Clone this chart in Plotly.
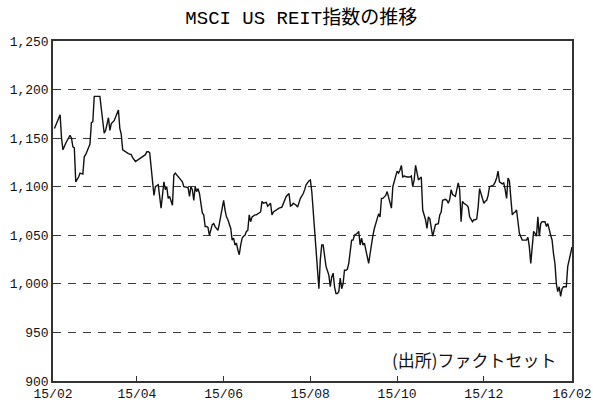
import plotly.graph_objects as go

title_text = "MSCI US REIT指数の推移"
source_text = "(出所)ファクトセット"

dates = [
"2015-02-02","2015-02-04","2015-02-06","2015-02-07","2015-02-08","2015-02-10","2015-02-13","2015-02-14","2015-02-15","2015-02-16",
"2015-02-17","2015-02-19","2015-02-20","2015-02-22","2015-02-23","2015-02-24","2015-02-26","2015-02-27","2015-02-28","2015-03-01",
"2015-03-02","2015-03-05","2015-03-06","2015-03-07","2015-03-09","2015-03-10","2015-03-11","2015-03-12","2015-03-13","2015-03-14",
"2015-03-16","2015-03-17","2015-03-19","2015-03-20","2015-03-21","2015-03-22","2015-03-24","2015-03-26","2015-03-28","2015-03-29",
"2015-03-31","2015-04-02","2015-04-04","2015-04-07","2015-04-08","2015-04-09","2015-04-10","2015-04-12","2015-04-13","2015-04-14",
"2015-04-16","2015-04-18","2015-04-20","2015-04-21","2015-04-22","2015-04-23","2015-04-24","2015-04-26","2015-04-27","2015-04-28",
"2015-04-30","2015-05-03","2015-05-04","2015-05-07","2015-05-08","2015-05-09","2015-05-10","2015-05-11","2015-05-12","2015-05-13",
"2015-05-14","2015-05-15","2015-05-17","2015-05-18","2015-05-19","2015-05-20","2015-05-21","2015-05-22","2015-05-24","2015-05-25",
"2015-05-26","2015-05-27","2015-05-28","2015-05-29","2015-05-31","2015-06-01","2015-06-02","2015-06-03","2015-06-04","2015-06-06",
"2015-06-07","2015-06-08","2015-06-09","2015-06-10","2015-06-11","2015-06-12","2015-06-13","2015-06-14","2015-06-15","2015-06-16",
"2015-06-17","2015-06-18","2015-06-19","2015-06-20","2015-06-21","2015-06-23","2015-06-24","2015-06-27","2015-06-28","2015-06-29",
"2015-07-01","2015-07-02","2015-07-04","2015-07-05","2015-07-06","2015-07-08","2015-07-10","2015-07-12","2015-07-13","2015-07-14",
"2015-07-15","2015-07-17","2015-07-18","2015-07-19","2015-07-20","2015-07-22","2015-07-23","2015-07-25","2015-07-26","2015-07-27",
"2015-07-28","2015-07-29","2015-07-31","2015-08-01","2015-08-02","2015-08-03","2015-08-04","2015-08-05","2015-08-06","2015-08-07",
"2015-08-08","2015-08-09","2015-08-10","2015-08-11","2015-08-12","2015-08-14","2015-08-15","2015-08-16","2015-08-17","2015-08-18",
"2015-08-19","2015-08-20","2015-08-21","2015-08-22","2015-08-23","2015-08-24","2015-08-25","2015-08-26","2015-08-27","2015-08-28",
"2015-08-29","2015-08-30","2015-08-31","2015-09-01","2015-09-03","2015-09-04","2015-09-05","2015-09-06","2015-09-07","2015-09-08",
"2015-09-09","2015-09-10","2015-09-11","2015-09-12","2015-09-13","2015-09-14","2015-09-15","2015-09-16","2015-09-17","2015-09-18",
"2015-09-19","2015-09-20","2015-09-21","2015-09-23","2015-09-24","2015-09-25","2015-09-26","2015-09-27","2015-09-28","2015-09-29",
"2015-09-30","2015-10-01","2015-10-02","2015-10-03","2015-10-04","2015-10-05","2015-10-06","2015-10-08","2015-10-10","2015-10-11",
"2015-10-12","2015-10-13","2015-10-14","2015-10-15","2015-10-16","2015-10-18","2015-10-19","2015-10-21","2015-10-22","2015-10-23",
"2015-10-24","2015-10-26","2015-10-27","2015-10-28","2015-10-30","2015-10-31","2015-11-01","2015-11-02","2015-11-04","2015-11-05",
"2015-11-06","2015-11-07","2015-11-08","2015-11-09","2015-11-11","2015-11-12","2015-11-13","2015-11-14","2015-11-15","2015-11-16",
"2015-11-17","2015-11-19","2015-11-20","2015-11-21","2015-11-23","2015-11-24","2015-11-25","2015-11-26","2015-11-27","2015-11-28",
"2015-11-29","2015-12-01","2015-12-02","2015-12-03","2015-12-04","2015-12-05","2015-12-07","2015-12-08","2015-12-09","2015-12-10",
"2015-12-11","2015-12-12","2015-12-14","2015-12-15","2015-12-16","2015-12-17","2015-12-18","2015-12-19","2015-12-20","2015-12-21",
"2015-12-22","2015-12-23","2015-12-24","2015-12-25","2015-12-26","2015-12-28","2015-12-29","2015-12-31","2016-01-01","2016-01-02",
"2016-01-03","2016-01-04","2016-01-05","2016-01-06","2016-01-07","2016-01-08","2016-01-09","2016-01-10","2016-01-11","2016-01-12",
"2016-01-13","2016-01-14","2016-01-15","2016-01-17","2016-01-18","2016-01-19","2016-01-20","2016-01-21","2016-01-22","2016-01-23",
"2016-01-24","2016-01-25","2016-01-26","2016-01-28","2016-01-29","2016-01-31","2016-02-01",
]

values = [
1160,1167,1174,1150,1138,1145,1153,1150,1141,1140,
1105,1110,1114,1113,1131,1133,1141,1144,1166,1167,
1193,1193,1193,1180,1155,1158,1166,1171,1158,1165,
1168,1172,1179,1160,1154,1138,1136,1134,1133,1130,
1126,1128,1130,1133,1136,1136,1135,1110,1091,1100,
1102,1078,1105,1097,1100,1088,1090,1081,1112,1114,
1110,1105,1100,1099,1090,1100,1097,1086,1100,1095,
1098,1093,1073,1071,1059,1059,1058,1050,1061,1062,
1059,1057,1055,1062,1076,1086,1076,1069,1066,1057,
1045,1047,1040,1042,1035,1030,1040,1047,1049,1050,
1054,1055,1071,1064,1069,1071,1071,1074,1085,1083,
1084,1080,1083,1071,1074,1076,1078,1079,1083,1087,
1090,1093,1080,1081,1083,1081,1079,1088,1090,1093,
1097,1102,1106,1107,1095,1073,1052,1028,1011,995,
1025,1040,1040,1030,1018,1009,997,1007,1011,997,
990,990,992,1006,995,1000,1014,1014,1015,1021,
1033,1045,1045,1050,1052,1054,1040,1047,1040,1042,
1035,1028,1021,1031,1043,1050,1057,1062,1069,1072,
1069,1088,1088,1091,1095,1090,1085,1078,1100,1105,
1109,1116,1114,1117,1122,1110,1111,1110,1110,1111,
1100,1107,1122,1115,1107,1110,1076,1066,1057,1069,
1067,1049,1056,1061,1062,1071,1074,1086,1087,1086,
1083,1087,1097,1092,1090,1097,1104,1097,1064,1085,
1083,1081,1079,1069,1064,1066,1066,1067,1079,1098,
1093,1083,1085,1086,1091,1100,1101,1102,1105,1109,
1116,1105,1103,1104,1097,1088,1109,1106,1088,1071,
1073,1074,1076,1062,1052,1045,1045,1045,1048,1038,
1021,1035,1054,1052,1049,1069,1049,1062,1064,1064,
1064,1059,1062,1050,1045,1031,1021,1000,992,997,
987,995,997,997,1018,1031,1038,
]

y_ticks = [900, 950, 1000, 1050, 1100, 1150, 1200, 1250]
y_tick_labels = ["900", "950", "1,000", "1,050", "1,100", "1,150", "1,200", "1,250"]
x_ticks = ["2015-02-01", "2015-04-01", "2015-06-01", "2015-08-01", "2015-10-01", "2015-12-01", "2016-02-01"]
x_tick_labels = ["15/02", "15/04", "15/06", "15/08", "15/10", "15/12", "16/02"]

FONT = "Liberation Mono, Noto Sans CJK JP, sans-serif"

fig = go.Figure()
fig.add_trace(go.Scatter(
    x=dates, y=values, mode="lines",
    line=dict(color="#111111", width=1.4),
    hoverinfo="skip", showlegend=False,
))

fig.update_layout(
    width=593, height=403,
    margin=dict(l=53, r=21, t=41, b=22, autoexpand=False),
    paper_bgcolor="white", plot_bgcolor="white",
    font=dict(family=FONT, size=13, color="#111"),
    title=dict(text=title_text, x=0.508, xanchor="center", xref="container",
               y=1 - 17 / 403, yanchor="middle", yref="container",
               font=dict(family=FONT, size=19, color="#000")),
    annotations=[dict(text=source_text, xref="paper", yref="paper",
                      x=0.974, y=0.062, xanchor="right", yanchor="middle",
                      showarrow=False,
                      font=dict(family="Noto Sans CJK JP, sans-serif", size=17, color="#111"))],
)

fig.update_xaxes(
    type="date", range=["2015-02-01", "2016-02-01"], automargin=False,
    tickmode="array", tickvals=x_ticks, ticktext=x_tick_labels,
    ticks="inside", ticklen=5, tickwidth=1.2, tickcolor="#333",
    showline=True, linecolor="#333", linewidth=1.5, mirror=True,
    showgrid=False, zeroline=False,
    tickfont=dict(family=FONT, size=13, color="#111"),
)
fig.update_yaxes(
    range=[900, 1250], automargin=False,
    tickmode="array", tickvals=y_ticks, ticktext=y_tick_labels,
    ticks="inside", ticklen=5, tickwidth=1.2, tickcolor="#333",
    showline=True, linecolor="#333", linewidth=1.5, mirror=True,
    showgrid=True, gridcolor="#3a3a3a", gridwidth=1.2, griddash="8px,7px",
    zeroline=False,
    tickfont=dict(family=FONT, size=13, color="#111"),
)

fig.write_html(
    "out.html",
    config={"displayModeBar": False},
    post_script="document.body.style.margin='0';document.body.style.overflow='hidden';",
)
